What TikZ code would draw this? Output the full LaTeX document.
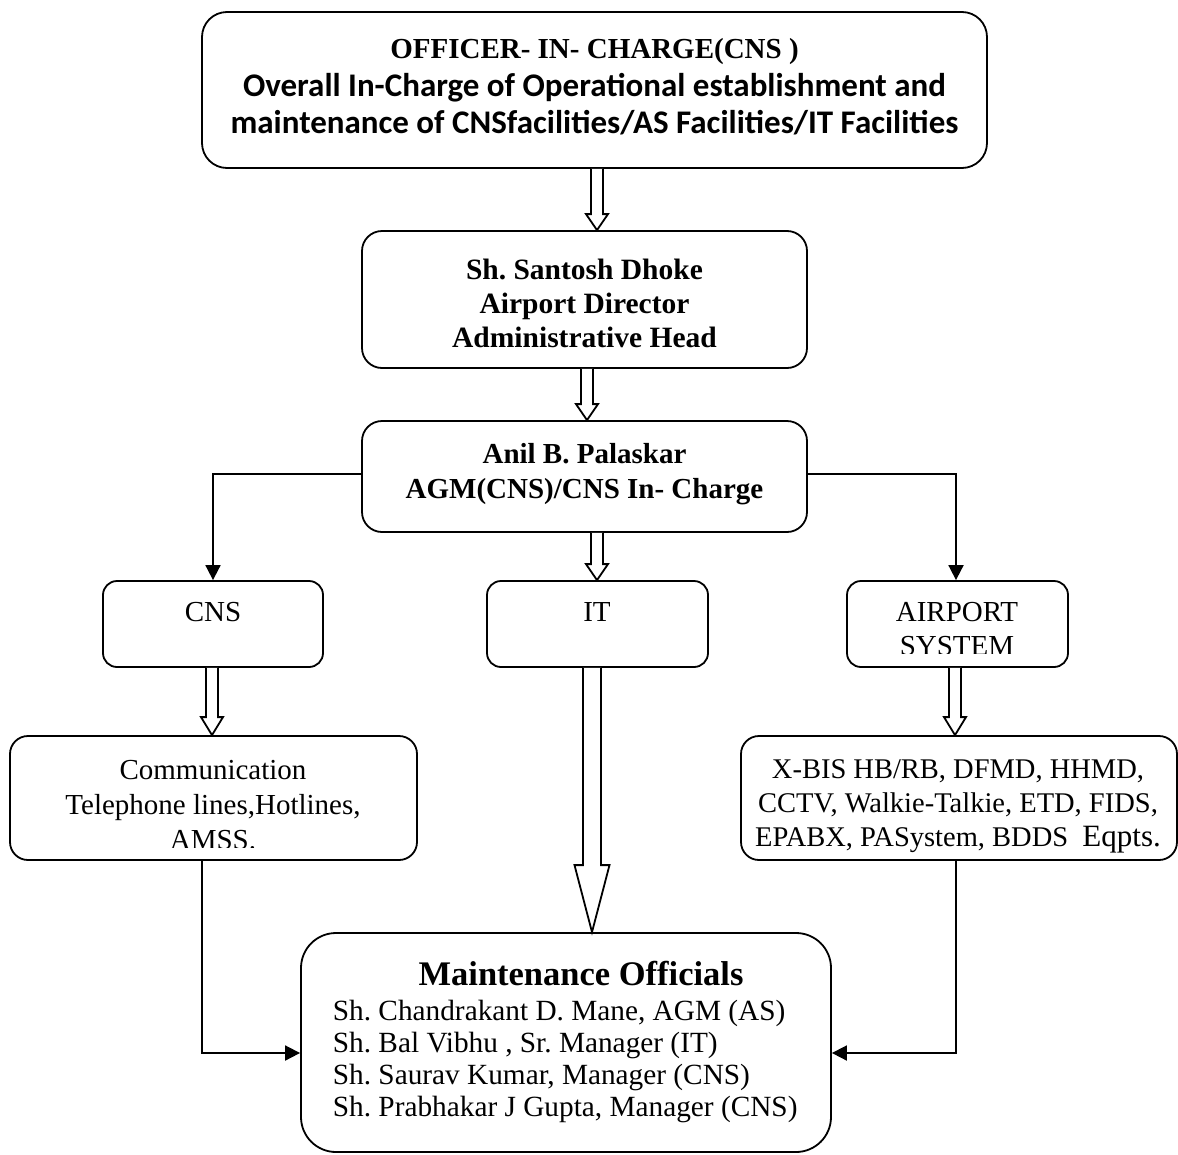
\documentclass[tikz,border=0pt]{standalone}
\usepackage{fontspec}
\setmainfont{Liberation Serif}
\newfontfamily\calibrifont{Carlito}
\usetikzlibrary{arrows.meta,calc}
\frenchspacing

% hollow block arrow: #1 source anchor, #2 target anchor,
% #3 shaft half width, #4 head half width, #5 head length
\newcommand{\hollowarrow}[5]{%
  \draw[hollow] let \p1=(#1), \p2=(#2) in
    (\x1-#3,\y1) -- (\x1-#3,\y2+#5) -- (\x1-#4,\y2+#5) -- (\x1,\y2)
    -- (\x1+#4,\y2+#5) -- (\x1+#3,\y2+#5) -- (\x1+#3,\y1);
}

\begin{document}
\begin{tikzpicture}[x=1pt,y=-1pt,line width=1.8pt,
  box/.style={draw,rounded corners=#1,inner sep=0pt},
  txt/.style={align=center,inner sep=0pt},
  hollow/.style={draw,line width=1.8pt,line join=miter,fill=white},
  flow/.style={-{Triangle[width=15pt,length=15pt]},line width=1.8pt},
  reg/.style={font=\fontsize{29}{35}\selectfont},
  bld/.style={font=\fontsize{29}{35}\selectfont\bfseries}]

\useasboundingbox (0,0) rectangle (1178,1154);

% boxes
\node[box=25pt,minimum width=785pt,minimum height=156pt] (top)  at (594.5,90) {};
\node[box=20pt,minimum width=445pt,minimum height=137pt] (sant) at (584.5,299.5) {};
\node[box=20pt,minimum width=445pt,minimum height=111pt] (anil) at (584.5,476.5) {};
\node[box=14pt,minimum width=220pt,minimum height=86pt]  (cns)  at (213,624) {};
\node[box=14pt,minimum width=221pt,minimum height=86pt]  (it)   at (597.5,624) {};
\node[box=14pt,minimum width=221pt,minimum height=86pt]  (air)  at (957.5,624) {};
\node[box=18pt,minimum width=407pt,minimum height=124pt] (comm) at (213.5,798) {};
\node[box=18pt,minimum width=436pt,minimum height=124pt] (xbis) at (959,798) {};
\node[box=35pt,minimum width=530pt,minimum height=219pt] (maint) at (566,1042.5) {};

% texts
\node[txt,font=\fontsize{29}{37.5}\selectfont\bfseries] (topT) at (594.5,87)
  {OFFICER- IN- CHARGE(CNS )\\
   {\calibrifont\fontsize{33}{37.5}\selectfont Overall In-Charge of Operational establishment and}\\
   {\calibrifont\fontsize{33}{37.5}\selectfont maintenance of CNSfacilities/AS Facilities/IT Facilities}};
\node[txt,font=\fontsize{29.5}{34}\selectfont\bfseries] (santT) at (584.5,303)
  {Sh. Santosh Dhoke\\Airport Director\\Administrative Head};
\node[txt,bld] (anilT) at (584.5,474.5) {Anil B. Palaskar\\AGM(CNS)/CNS In- Charge};
\node[txt,reg] (cnsT) at (213,612) {CNS};
\node[txt,reg] (itT) at (597,612) {IT};
\begin{scope}
  \clip (847,581) rectangle (1068,653);
  \node[txt,font=\fontsize{29}{34}\selectfont] (airT) at (957,629) {AIRPORT\\SYSTEM};
\end{scope}
\begin{scope}
  \clip (10,736) rectangle (417,847);
  \node[txt,reg] (commT) at (213,805) {Communication\\Telephone lines,Hotlines,\\AMSS.};
\end{scope}
\node[txt,font=\fontsize{28.5}{34}\selectfont] (xbisT) at (958,806)
  {X-BIS HB/RB, DFMD, HHMD,\\CCTV, Walkie-Talkie, ETD, FIDS,\\EPABX, PASystem, BDDS\ \ {\fontsize{31}{34}\selectfont Eqpts.}};
\node[txt,font=\fontsize{34.5}{40}\selectfont\bfseries] (maintH) at (581,974) {Maintenance Officials};
\node[inner sep=0pt,align=left,anchor=west,font=\fontsize{29.3}{32}\selectfont] (maintL) at (332,1061)
  {Sh. Chandrakant D. Mane, AGM (AS)\\
   Sh. Bal Vibhu , Sr. Manager (IT)\\
   Sh. Saurav Kumar, Manager (CNS)\\
   Sh. Prabhakar J Gupta, Manager (CNS)};

% block arrows between levels
\hollowarrow{[xshift=2.5pt]top.south}{sant.north}{6pt}{11pt}{16pt}
\hollowarrow{[xshift=2.5pt]sant.south}{anil.north}{6pt}{11pt}{16pt}
\hollowarrow{[xshift=12.5pt]anil.south}{it.north}{6pt}{11pt}{16pt}
\hollowarrow{[xshift=-1pt]cns.south}{comm.north}{6pt}{11pt}{18pt}
\hollowarrow{[xshift=-2.5pt]air.south}{xbis.north}{6pt}{11pt}{18pt}
\hollowarrow{[xshift=-5.5pt]it.south}{maint.north}{9pt}{17.5pt}{67pt}

% branch connectors
\draw[flow] ([yshift=2.5pt]anil.west) -| (cns.north);
\draw[flow] ([yshift=2.5pt]anil.east) -| ([xshift=-1.5pt]air.north);
\draw[flow] ([xshift=-11.5pt]comm.south) |- ([yshift=-10.5pt]maint.west);
\draw[flow] ([xshift=-3pt]xbis.south) |- ([yshift=-10.5pt]maint.east);
\end{tikzpicture}
\end{document}
